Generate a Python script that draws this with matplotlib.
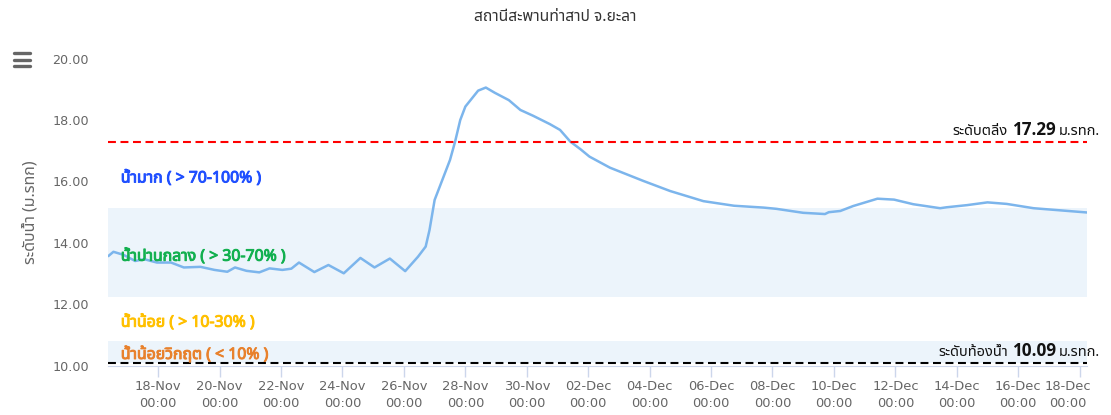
import matplotlib
matplotlib.use('Agg')
import numpy as np
import pandas as pd
import matplotlib.pyplot as plt
import matplotlib.dates as mdates
import matplotlib.transforms as mtransforms
import matplotlib.patheffects as pe
from matplotlib import font_manager
from matplotlib.ft2font import FT2Font
from matplotlib.lines import Line2D

TITLE = 'สถานีสะพานท่าสาป จ.ยะลา'
Y_LABEL = 'ระดับน้ำ (ม.รทก)'

# water level readings
times = [
    '2024-11-16 09:00', '2024-11-16 13:00', '2024-11-16 21:00', '2024-11-17 06:00',
    '2024-11-17 13:00', '2024-11-17 23:00', '2024-11-18 10:00', '2024-11-18 20:00',
    '2024-11-19 09:00', '2024-11-19 20:00', '2024-11-20 06:00', '2024-11-20 12:00',
    '2024-11-20 21:00', '2024-11-21 07:00', '2024-11-21 15:00', '2024-11-22 01:00',
    '2024-11-22 08:00', '2024-11-22 14:00', '2024-11-23 02:00', '2024-11-23 13:00',
    '2024-11-24 01:00', '2024-11-24 14:00', '2024-11-25 01:00', '2024-11-25 13:00',
    '2024-11-26 01:00', '2024-11-26 11:00', '2024-11-26 17:00', '2024-11-26 20:00',
    '2024-11-27 00:00', '2024-11-27 06:00', '2024-11-27 12:00', '2024-11-27 16:00',
    '2024-11-27 20:00', '2024-11-28 00:00', '2024-11-28 10:00', '2024-11-28 16:00',
    '2024-11-28 23:00', '2024-11-29 10:00', '2024-11-29 19:00', '2024-11-30 05:00',
    '2024-11-30 18:00', '2024-12-01 02:00', '2024-12-01 10:00', '2024-12-01 18:00',
    '2024-12-02 01:00', '2024-12-02 17:00', '2024-12-03 19:00', '2024-12-04 16:00',
    '2024-12-05 18:00', '2024-12-06 18:00', '2024-12-07 17:00', '2024-12-08 03:00',
    '2024-12-09 00:00', '2024-12-09 17:00', '2024-12-09 20:00', '2024-12-10 05:00',
    '2024-12-10 15:00', '2024-12-11 10:00', '2024-12-11 23:00', '2024-12-12 14:00',
    '2024-12-13 11:00', '2024-12-13 16:00', '2024-12-14 08:00', '2024-12-15 00:00',
    '2024-12-15 15:00', '2024-12-16 12:00', '2024-12-17 09:00', '2024-12-18 06:00',
]
levels = [
    13.57, 13.71, 13.61, 13.41, 13.47, 13.36, 13.36, 13.20,
    13.22, 13.12, 13.06, 13.20, 13.09, 13.04, 13.17, 13.12,
    13.16, 13.36, 13.05, 13.28, 13.01, 13.51, 13.20, 13.49,
    13.08, 13.55, 13.88, 14.42, 15.40, 16.05, 16.70, 17.30,
    18.00, 18.44, 18.96, 19.06, 18.89, 18.65, 18.33, 18.14,
    17.87, 17.68, 17.30, 17.05, 16.81, 16.45, 16.02, 15.69,
    15.36, 15.21, 15.15, 15.11, 14.98, 14.94, 15.00, 15.04,
    15.20, 15.44, 15.41, 15.26, 15.13, 15.16, 15.23, 15.32,
    15.27, 15.13, 15.06, 14.99,
]

BANK_LEVEL = 17.29
BED_LEVEL = 10.09
# bands: bed -> 10% and 30% -> 70% of the bank depth
bands = [(10.09, 10.81), (12.25, 15.13)]

zone_labels = ['น้ำมาก ( > 70-100% )', 'น้ำปานกลาง ( > 30-70% )',
               'น้ำน้อย ( > 10-30% )', 'น้ำน้อยวิกฤต ( < 10% )']
zone_label_y = [16.10, 13.55, 11.40, 10.35]
zone_colors = ['#1f4fff', '#12b04f', '#ffc000', '#e8812c']


def pick_thai_font():
    preferred = ['Noto Sans Thai', 'Noto Sans Thai UI', 'Noto Sans Thai Looped',
                 'Loma', 'Garuda', 'Sarabun', 'Norasi', 'Kinnari', 'Umpush', 'Waree']
    found = {}
    for fe in font_manager.fontManager.ttflist:
        try:
            if 0x0E01 in FT2Font(fe.fname).get_charmap():
                w = fe.weight if isinstance(fe.weight, int) else font_manager.weight_dict.get(fe.weight, 400)
                found.setdefault(fe.name, []).append(w)
        except Exception:
            pass
    for name in preferred + list(found):
        if name in found:
            return name, max(found[name]) >= 600
    return None, False


thai, thai_has_bold = pick_thai_font()
plt.rcParams['font.family'] = [thai, 'DejaVu Sans'] if thai else ['DejaVu Sans']
LATIN = ['DejaVu Sans']


def fake_bold(color, w=0.7):
    # thai font may come without a bold face
    if thai_has_bold:
        return []
    return [pe.withStroke(linewidth=w, foreground=color)]


dates = pd.to_datetime(times)

fig = plt.figure(figsize=(11.11, 4.15), dpi=100)
ax = fig.add_axes([108.3 / 1111, 49.3 / 415, 979 / 1111, 307 / 415])

for lo, hi in bands:
    ax.axhspan(lo, hi, color='#ecf4fb', lw=0, zorder=0)

ax.plot(dates, levels, color='#7cb5ec', lw=1.8, zorder=3,
        solid_joinstyle='round', solid_capstyle='round')

ax.axhline(BANK_LEVEL, color='#ff0000', lw=1.5, dashes=(3.8, 2.2), zorder=4)
ax.axhline(BED_LEVEL, color='#000000', lw=1.5, dashes=(3.8, 2.2), zorder=4)

for lab, yv, col in zip(zone_labels, zone_label_y, zone_colors):
    ax.text(0.0128, yv, lab, transform=ax.get_yaxis_transform(), color=col,
            fontsize=11.4, fontweight='bold', va='center', ha='left', zorder=5,
            path_effects=fake_bold(col))

# level labels on the right: "<name> <value> ม.รทก." with bold value
trans = mtransforms.blended_transform_factory(fig.transFigure, ax.transData)
for name, val in [('ระดับตลิ่ง', BANK_LEVEL), ('ระดับท้องน้ำ', BED_LEVEL)]:
    t1 = ax.text(1100 / 1111, val + 0.08, 'ม.รทก.', transform=trans, ha='right',
                 va='bottom', fontsize=10.5, color='#111111', zorder=5)
    t2 = ax.annotate(f'{val:.2f}', xy=(0, 0), xycoords=t1, xytext=(-2, 0),
                     textcoords='offset points', ha='right', va='bottom',
                     family=['Open Sans', 'DejaVu Sans'], fontsize=12.3,
                     fontweight='bold', color='#111111', zorder=5)
    ax.annotate(name, xy=(0, 0), xycoords=t2, xytext=(-3, 0),
                textcoords='offset points', ha='right', va='bottom',
                fontsize=10.5, color='#111111', zorder=5)

ax.set_ylim(10, 20)
ax.set_yticks(np.arange(10, 20.1, 2))
ax.yaxis.set_major_formatter(matplotlib.ticker.FormatStrFormatter('%.2f'))
ax.set_xlim(dates[0], dates[-1])
ax.set_xticks(pd.date_range('2024-11-18', '2024-12-18', freq='2D'))
ax.xaxis.set_major_formatter(mdates.DateFormatter('%d-%b\n%H:%M'))

ax.tick_params(axis='y', length=0, pad=14, labelsize=9.2, labelcolor='#666666')
ax.tick_params(axis='x', length=8, width=1, color='#ccd6eb', pad=2,
               labelsize=9.4, labelcolor='#666666')
for lab in ax.get_xticklabels() + ax.get_yticklabels():
    lab.set_family(LATIN)
for lab in ax.get_xticklabels():
    lab.set_linespacing(1.45)
# last label gets pushed inside the chart like the original
last = ax.get_xticklabels()[-1]
last.set_transform(last.get_transform() +
                   mtransforms.ScaledTranslation(-8.5 / 72, 0, fig.dpi_scale_trans))

for side in ['top', 'right', 'left']:
    ax.spines[side].set_visible(False)
ax.spines['bottom'].set_color('#ccd6eb')

ax.set_ylabel(Y_LABEL, fontsize=11.5, color='#666666')
ax.yaxis.set_label_coords(-0.071, 0.5)

fig.text(0.5, 1 - 17 / 415, TITLE, ha='center', va='center', fontsize=11.3, color='#333333')

# menu button
for yy in [53.5, 60, 66.5]:
    fig.add_artist(Line2D([14 / 1111, 30 / 1111], [1 - yy / 415] * 2, color='#666666',
                          lw=2.4, solid_capstyle='round'))

fig.savefig('out.png', dpi=100)
